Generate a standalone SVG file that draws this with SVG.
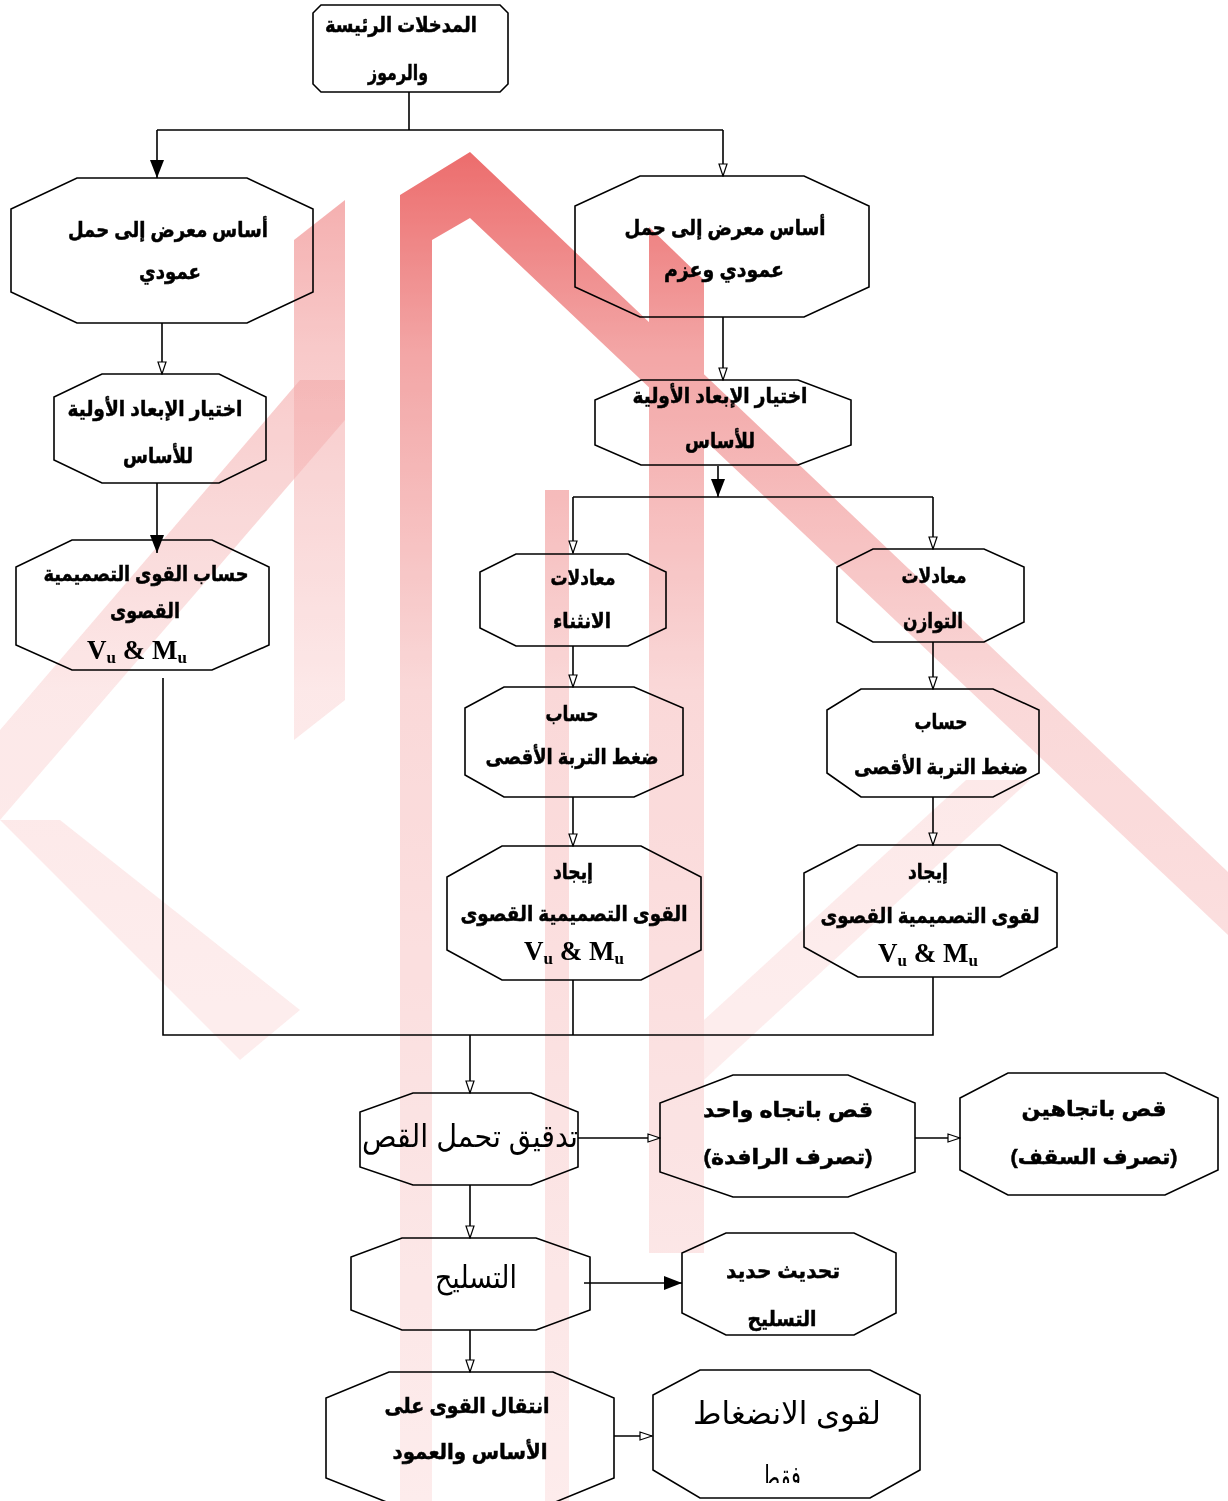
<svg xmlns="http://www.w3.org/2000/svg" width="1228" height="1501" viewBox="0 0 1228 1501">
<style>
.n{fill:none;stroke:#000;stroke-width:1.6}
.c{fill:none;stroke:#000;stroke-width:1.6}
.t{font-family:"Liberation Sans","DejaVu Sans",sans-serif;font-weight:bold;font-size:21px;text-anchor:middle;fill:#000;stroke:#000;stroke-width:0.5}
.tr{font-family:"Liberation Sans","DejaVu Sans",sans-serif;font-weight:normal;font-size:31px;text-anchor:middle;fill:#000}
.vm{font-family:"Liberation Serif","DejaVu Serif",serif;font-weight:bold;font-size:27px;text-anchor:middle;fill:#000}
.wm{fill:url(#wmg)}
</style>
<defs>
<linearGradient id="wmg" gradientUnits="userSpaceOnUse" x1="0" y1="150" x2="0" y2="1500">
<stop offset="0" stop-color="#e84848"/>
<stop offset="0.15" stop-color="#f09090"/>
<stop offset="0.4" stop-color="#f9cfcf"/>
<stop offset="1" stop-color="#fde8e8"/>
</linearGradient>
<marker id="ho" viewBox="0 0 14 10" refX="13" refY="5" markerWidth="14" markerHeight="10" orient="auto" markerUnits="userSpaceOnUse"><path d="M1,1 L13,5 L1,9 z" fill="#fff" stroke="#000" stroke-width="1.2"/></marker>
<marker id="fi" viewBox="0 0 18 14" refX="18" refY="7" markerWidth="18" markerHeight="14" orient="auto" markerUnits="userSpaceOnUse"><path d="M0,0 L18,7 L0,14 z" fill="#000"/></marker>
<clipPath id="clip19"><rect x="653" y="1360" width="270" height="123"/></clipPath>
</defs>
<rect width="1228" height="1501" fill="#fff"/>
<g id="watermark" opacity="0.8">
<polygon class="wm" points="400,1501 400,195 470,152 1228,872 1228,935 470,218 432,240 432,1501"/>
<polygon class="wm" points="649,227 704,280 704,1253 649,1253"/>
<polygon class="wm" points="545,490 569,490 569,1501 545,1501"/>
<polygon class="wm" points="294,240 345,200 345,700 294,740" opacity="0.6"/>
<polygon class="wm" points="0,730 300,380 345,380 345,420 0,820" opacity="0.6"/>
<polygon class="wm" points="0,820 60,820 300,1010 240,1060" opacity="0.6"/>
<polygon class="wm" points="704,1020 966,780 1030,780 704,1080" opacity="0.6"/>
</g>
<g id="connectors">
<path class="c" d="M409,92 V130 M157,130 H723"/>
<path class="c" d="M157,130 V178" marker-end="url(#fi)"/>
<path class="c" d="M723,130 V176" marker-end="url(#ho)"/>
<path class="c" d="M162,323 V374" marker-end="url(#ho)"/>
<path class="c" d="M157,483 V553" marker-end="url(#fi)"/>
<path class="c" d="M723,317 V380" marker-end="url(#ho)"/>
<path class="c" d="M718,466 V497" marker-end="url(#fi)"/>
<path class="c" d="M573,497 H933"/>
<path class="c" d="M573,497 V553" marker-end="url(#ho)"/>
<path class="c" d="M933,497 V549" marker-end="url(#ho)"/>
<path class="c" d="M573,646 V687" marker-end="url(#ho)"/>
<path class="c" d="M933,642 V689" marker-end="url(#ho)"/>
<path class="c" d="M573,797 V846" marker-end="url(#ho)"/>
<path class="c" d="M933,797 V845" marker-end="url(#ho)"/>
<path class="c" d="M163,678 V1035 H933 V977 M573,980 V1035"/>
<path class="c" d="M470,1035 V1093" marker-end="url(#ho)"/>
<path class="c" d="M578,1138 H660" marker-end="url(#ho)"/>
<path class="c" d="M915,1138 H960" marker-end="url(#ho)"/>
<path class="c" d="M470,1185 V1238" marker-end="url(#ho)"/>
<path class="c" d="M584,1283 H682" marker-end="url(#fi)"/>
<path class="c" d="M470,1330 V1372" marker-end="url(#ho)"/>
<path class="c" d="M614,1436 H652" marker-end="url(#ho)"/>
</g>
<g id="n1">
<polygon class="n" points="321,5 500,5 508,13 508,84 500,92 321,92 313,84 313,13"/>
<text class="t" x="401" y="32" textLength="152" lengthAdjust="spacingAndGlyphs">المدخلات الرئيسة</text>
<text class="t" x="398" y="80" textLength="60" lengthAdjust="spacingAndGlyphs">والرموز</text>
</g>
<g id="n2">
<polygon class="n" points="77,178 247,178 313,209 313,292 247,323 77,323 11,292 11,209"/>
<text class="t" x="168" y="237" font-size="22" textLength="200" lengthAdjust="spacingAndGlyphs">أساس معرض إلى حمل</text>
<text class="t" x="170" y="279" font-size="22" textLength="62" lengthAdjust="spacingAndGlyphs">عمودي</text>
</g>
<g id="n3">
<polygon class="n" points="640,176 804,176 869,206 869,287 804,317 640,317 575,287 575,206"/>
<text class="t" x="725" y="235" font-size="22" textLength="201" lengthAdjust="spacingAndGlyphs">أساس معرض إلى حمل</text>
<text class="t" x="724" y="277" font-size="22" textLength="120" lengthAdjust="spacingAndGlyphs">عمودي وعزم</text>
</g>
<g id="n4">
<polygon class="n" points="102,374 219,374 266,397 266,460 219,483 102,483 54,460 54,397"/>
<text class="t" x="155" y="416" textLength="175" lengthAdjust="spacingAndGlyphs">اختيار الإبعاد الأولية</text>
<text class="t" x="158" y="463" textLength="70" lengthAdjust="spacingAndGlyphs">للأساس</text>
</g>
<g id="n5">
<polygon class="n" points="72,540 212,540 269,567 269,645 212,670 72,670 16,645 16,567"/>
<text class="t" x="146" y="581" textLength="205" lengthAdjust="spacingAndGlyphs">حساب القوى التصميمية</text>
<text class="t" x="145" y="618" textLength="70" lengthAdjust="spacingAndGlyphs">القصوى</text>
<text class="vm" x="137" y="659">V<tspan font-size="17" dy="4">u</tspan><tspan dy="-4"> &amp; M</tspan><tspan font-size="17" dy="4">u</tspan></text>
</g>
<g id="n6">
<polygon class="n" points="641,380 798,380 851,400 851,445 798,465 641,465 595,445 595,400"/>
<text class="t" x="720" y="403" textLength="175" lengthAdjust="spacingAndGlyphs">اختيار الإبعاد الأولية</text>
<text class="t" x="720" y="448" textLength="70" lengthAdjust="spacingAndGlyphs">للأساس</text>
</g>
<g id="n7">
<polygon class="n" points="516,554 628,554 666,572 666,628 628,646 516,646 480,628 480,572"/>
<text class="t" x="583" y="585" textLength="65" lengthAdjust="spacingAndGlyphs">معادلات</text>
<text class="t" x="582" y="628" textLength="58" lengthAdjust="spacingAndGlyphs">الانثناء</text>
</g>
<g id="n9">
<polygon class="n" points="873,549 984,549 1024,567 1024,622 984,642 873,642 837,622 837,567"/>
<text class="t" x="934" y="583" textLength="65" lengthAdjust="spacingAndGlyphs">معادلات</text>
<text class="t" x="933" y="628" textLength="60" lengthAdjust="spacingAndGlyphs">التوازن</text>
</g>
<g id="n8">
<polygon class="n" points="504,687 634,687 683,708 683,775 634,797 504,797 465,775 465,708"/>
<text class="t" x="572" y="721" textLength="53" lengthAdjust="spacingAndGlyphs">حساب</text>
<text class="t" x="572" y="764" textLength="173" lengthAdjust="spacingAndGlyphs">ضغط التربة الأقصى</text>
</g>
<g id="n10">
<polygon class="n" points="861,689 993,689 1039,710 1039,773 993,797 861,797 827,773 827,710"/>
<text class="t" x="941" y="729" textLength="53" lengthAdjust="spacingAndGlyphs">حساب</text>
<text class="t" x="941" y="774" textLength="174" lengthAdjust="spacingAndGlyphs">ضغط التربة الأقصى</text>
</g>
<g id="n11">
<polygon class="n" points="502,846 641,846 701,877 701,950 641,980 502,980 447,950 447,877"/>
<text class="t" x="573" y="879" font-size="18" textLength="40" lengthAdjust="spacingAndGlyphs">إيجاد</text>
<text class="t" x="574" y="921" font-size="20" textLength="227" lengthAdjust="spacingAndGlyphs">القوى التصميمية القصوى</text>
<text class="vm" x="574" y="960">V<tspan font-size="17" dy="4">u</tspan><tspan dy="-4"> &amp; M</tspan><tspan font-size="17" dy="4">u</tspan></text>
</g>
<g id="n12">
<polygon class="n" points="858,845 1000,845 1057,873 1057,947 1000,977 858,977 804,947 804,873"/>
<text class="t" x="928" y="879" font-size="18" textLength="40" lengthAdjust="spacingAndGlyphs">إيجاد</text>
<text class="t" x="930" y="923" font-size="20" textLength="219" lengthAdjust="spacingAndGlyphs">لقوى التصميمية القصوى</text>
<text class="vm" x="928" y="962">V<tspan font-size="17" dy="4">u</tspan><tspan dy="-4"> &amp; M</tspan><tspan font-size="17" dy="4">u</tspan></text>
</g>
<g id="n13">
<polygon class="n" points="413,1093 531,1093 578,1112 578,1167 531,1185 413,1185 360,1167 360,1112"/>
<text class="tr" x="470" y="1147" textLength="216" lengthAdjust="spacingAndGlyphs">تدقيق تحمل القص</text>
</g>
<g id="n14">
<polygon class="n" points="733,1075 848,1075 915,1103 915,1172 848,1197 733,1197 660,1172 660,1103"/>
<text class="t" x="788" y="1117" font-size="26" textLength="170" lengthAdjust="spacingAndGlyphs">قص باتجاه واحد</text>
<text class="t" x="788" y="1164" font-size="26" textLength="169" lengthAdjust="spacingAndGlyphs">(تصرف الرافدة)</text>
</g>
<g id="n15">
<polygon class="n" points="1008,1073 1165,1073 1218,1098 1218,1170 1165,1195 1008,1195 960,1170 960,1098"/>
<text class="t" x="1094" y="1116" font-size="26" textLength="145" lengthAdjust="spacingAndGlyphs">قص باتجاهين</text>
<text class="t" x="1094" y="1164" font-size="26" textLength="167" lengthAdjust="spacingAndGlyphs">(تصرف السقف)</text>
</g>
<g id="n16">
<polygon class="n" points="402,1238 536,1238 590,1257 590,1310 536,1330 402,1330 351,1310 351,1257"/>
<text class="tr" x="476" y="1288" textLength="82" lengthAdjust="spacingAndGlyphs">التسليح</text>
</g>
<g id="n17">
<polygon class="n" points="726,1233 854,1233 896,1253 896,1313 854,1335 726,1335 682,1313 682,1253"/>
<text class="t" x="783" y="1278" font-size="23" textLength="114" lengthAdjust="spacingAndGlyphs">تحديث حديد</text>
<text class="t" x="782" y="1326" font-size="23" textLength="69" lengthAdjust="spacingAndGlyphs">التسليح</text>
</g>
<g id="n18">
<polygon class="n" points="389,1372 553,1372 614,1398 614,1478 553,1503 389,1503 326,1478 326,1398"/>
<text class="t" x="467" y="1413" font-size="23" textLength="165" lengthAdjust="spacingAndGlyphs">انتقال القوى على</text>
<text class="t" x="470" y="1459" font-size="23" textLength="155" lengthAdjust="spacingAndGlyphs">الأساس والعمود</text>
</g>
<g id="n19">
<polygon class="n" points="700,1370 870,1370 920,1395 920,1470 870,1498 700,1498 653,1470 653,1395"/>
<text class="tr" x="787" y="1424" font-size="33" textLength="188" lengthAdjust="spacingAndGlyphs">لقوى الانضغاط</text>
<g clip-path="url(#clip19)"><text class="tr" x="781" y="1488" font-size="28" textLength="40" lengthAdjust="spacingAndGlyphs">فقط</text></g>
</g>
</svg>
